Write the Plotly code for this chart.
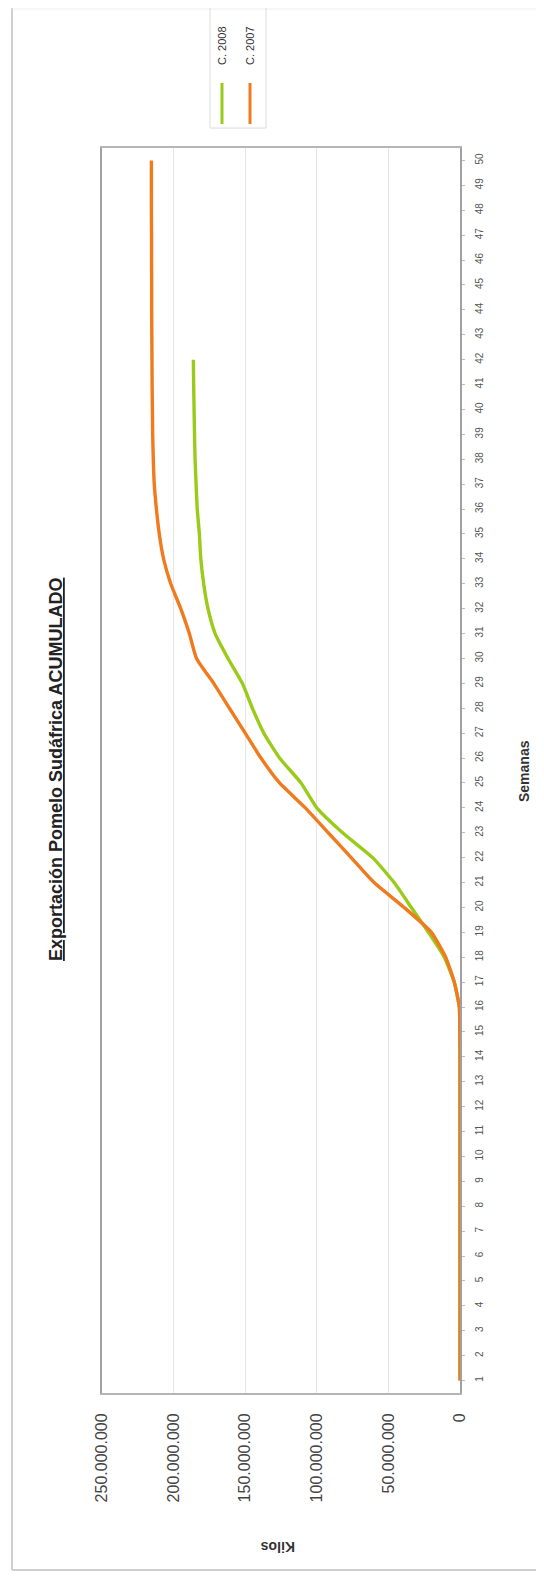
import plotly.graph_objects as go

OFF = 8  # page body margin
W, H = 544 - OFF, 1578 - OFF
# plot area in page pixels
PL, PR, PT, PB = 102, 460, 148, 1393

weeks = list(range(1, 51))
c2007 = [0, 0, 0, 0, 0, 0, 0, 0, 0, 0, 0, 0, 0, 0, 0.1, 0.5,
         4, 10, 20, 39, 60, 76, 92, 108, 126, 139, 150, 161, 172, 184,
         189, 195, 202, 207, 210, 212, 213.5, 214.2, 214.6, 214.8, 215, 215.1,
         215.2, 215.3, 215.3, 215.4, 215.4, 215.5, 215.5, 215.5]
c2008 = [0, 0, 0, 0, 0, 0, 0, 0, 0, 0, 0, 0, 0, 0, 0.1, 0.4,
         4, 11, 22, 34, 46, 61, 82, 100, 111, 126, 137, 145, 152, 162,
         171, 176, 179, 181, 182, 183.5, 184.3, 185, 185.4, 185.7, 186, 186.2,
         None, None, None, None, None, None, None, None]
kilo_ticks = [0, 50e6, 100e6, 150e6, 200e6, 250e6]

title = "Exportación Pomelo Sudáfrica ACUMULADO"
series_names = ["C. 2008", "C. 2007"]
orange = "#F07A1E"
green = "#9ACB1A"

def scale(v):
    return None if v is None else v * 1e6

def px(x):
    return (x - PL) / (PR - PL)

def py(y):
    return (PB - y) / (PB - PT)

fig = go.Figure()
fig.add_trace(go.Scatter(x=[scale(v) for v in c2008], y=weeks, mode="lines",
                         name=series_names[0], line=dict(color=green, width=3.4, shape="spline", smoothing=0.5),
                         showlegend=False))
fig.add_trace(go.Scatter(x=[scale(v) for v in c2007], y=weeks, mode="lines",
                         name=series_names[1], line=dict(color=orange, width=3.4, shape="spline", smoothing=0.5),
                         showlegend=False))

fig.update_layout(
    width=W, height=H,
    margin=dict(l=PL - OFF, r=(544 - OFF) - (PR - OFF), t=PT - OFF, b=(1578 - OFF) - (PB - OFF), pad=0),
    paper_bgcolor="white", plot_bgcolor="white",
    separators=",.",
    font=dict(family="Liberation Sans, Arial, sans-serif", color="#333"),
    xaxis=dict(range=[250e6, 0], tickvals=kilo_ticks, tickformat=",d", tickangle=-90,
               tickfont=dict(size=16, color="#444"), showgrid=True, gridcolor="#e6e6e6", gridwidth=1,
               showline=True, linecolor="#b5b5b5", linewidth=2, mirror=True, zeroline=False,
               ticks="", ticklabelstandoff=12),
    yaxis=dict(range=[0.5, 50.5], tickvals=weeks, tickangle=-90, side="right",
               tickfont=dict(size=10, color="#555"), showgrid=False,
               showline=True, linecolor="#a0a0a0", linewidth=2, mirror=True, zeroline=False,
               ticks="outside", ticklen=3, tickcolor="#bbb", ticklabelstandoff=6),
    showlegend=False,
)

shapes = []
# outer chart frame (left and bottom visible, top faint)
shapes.append(dict(type="line", xref="paper", yref="paper",
                   x0=px(12), x1=px(12), y0=py(1570), y1=py(OFF),
                   line=dict(color="#cfcfcf", width=2)))
shapes.append(dict(type="line", xref="paper", yref="paper",
                   x0=px(12), x1=px(544), y0=py(1570), y1=py(1570),
                   line=dict(color="#cfcfcf", width=2)))
shapes.append(dict(type="line", xref="paper", yref="paper",
                   x0=px(12), x1=px(544), y0=py(OFF + 1), y1=py(OFF + 1),
                   line=dict(color="#eeeeee", width=1)))
# legend box
shapes.append(dict(type="rect", xref="paper", yref="paper",
                   x0=px(210), x1=px(266), y0=py(128), y1=py(6),
                   line=dict(color="#dcdcdc", width=1), fillcolor="rgba(0,0,0,0)"))
shapes.append(dict(type="line", xref="paper", yref="paper",
                   x0=px(222), x1=px(222), y0=py(124), y1=py(83),
                   line=dict(color=green, width=3)))
shapes.append(dict(type="line", xref="paper", yref="paper",
                   x0=px(250), x1=px(250), y0=py(124), y1=py(83),
                   line=dict(color=orange, width=3)))
fig.update_layout(shapes=shapes)

ann = []
ann.append(dict(text="<b><u>" + title + "</u></b>", xref="paper", yref="paper",
                x=px(56), y=py(770), textangle=-90, showarrow=False,
                xanchor="center", yanchor="middle", font=dict(size=18, color="#222")))
ann.append(dict(text="<b>Semanas</b>", xref="paper", yref="paper",
                x=px(524), y=py(771), textangle=-90, showarrow=False,
                xanchor="center", yanchor="middle", font=dict(size=14, color="#333")))
ann.append(dict(text="<b>Kilos</b>", xref="paper", yref="paper",
                x=px(278), y=py(1547), textangle=180, showarrow=False,
                xanchor="center", yanchor="middle", font=dict(size=14, color="#333")))
ann.append(dict(text=series_names[0], xref="paper", yref="paper",
                x=px(222), y=py(46), textangle=-90, showarrow=False,
                xanchor="center", yanchor="middle", font=dict(size=11, color="#333")))
ann.append(dict(text=series_names[1], xref="paper", yref="paper",
                x=px(250), y=py(46), textangle=-90, showarrow=False,
                xanchor="center", yanchor="middle", font=dict(size=11, color="#333")))
fig.update_layout(annotations=ann)

fig.write_html("out.html")
